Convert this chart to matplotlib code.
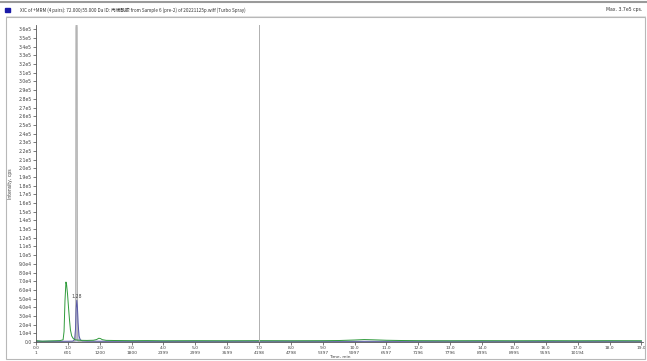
import matplotlib.pyplot as plt
from matplotlib.patches import Rectangle

plt.rcParams['font.family'] = ['DejaVu Sans', 'Noto Sans CJK SC']

# traces (time in min, intensity in cps)
green_t = [0.0, 0.2, 0.4, 0.6, 0.75, 0.85, 0.88, 0.91, 0.94, 0.96, 0.99, 1.02, 1.05,
           1.08, 1.12, 1.17, 1.22, 1.3, 1.45, 1.6, 1.8, 1.9, 1.97, 2.02, 2.08, 2.2,
           2.5, 3.0, 3.5, 4.0, 5.0, 6.0, 7.0, 8.0, 9.0, 9.5, 10.0, 10.3, 10.6, 11.0,
           11.5, 12.0, 13.0, 14.0, 15.0, 16.0, 17.0, 18.0, 19.0]
green_y = [1500, 900, 1200, 1400, 1600, 2500, 12000, 48000, 69000, 66000, 55000,
           40000, 26000, 14000, 7000, 4000, 2600, 2200, 1900, 1800, 2000, 2800, 4300,
           4000, 2700, 1900, 1700, 1500, 1600, 1400, 1500, 1400, 1500, 1400, 1500,
           1700, 2300, 2800, 2500, 2000, 1700, 1500, 1400, 1500, 1400, 1500, 1400,
           1500, 1400]

blue_t = [0.0, 0.5, 1.0, 1.15, 1.21, 1.24, 1.26, 1.28, 1.30, 1.32, 1.35, 1.39, 1.45,
          1.6, 2.0, 4.0, 7.0, 10.0, 13.0, 16.0, 19.0]
blue_y = [900, 800, 900, 1000, 2500, 15000, 38000, 48000, 40000, 22000, 7000, 2500,
          1300, 1000, 900, 800, 900, 800, 900, 800, 900]

grey_t = [0.0, 1.0, 1.2, 1.245, 1.255, 1.275, 1.29, 1.30, 1.34, 1.5, 19.0]
grey_y = [300, 300, 400, 2000, 362000, 370000, 362000, 2000, 400, 300, 300]

peak_rt = 1.28
cursor_t = 7.0

x_ticks = [float(i) for i in range(20)]
scan_labels = ['1', '601', '1200', '1800', '2399', '2999', '3599', '4198', '4798',
               '5397', '5997', '6597', '7196', '7796', '8395', '8995', '9595',
               '10194', '', '']
y_ticks = [i * 1e4 for i in range(37)]

title = ('XIC of +MRM (4 pairs): 72.000/55.000 Da ID: 丙烯酰胺 from Sample 6 (pre-2) '
         'of 20221125p.wiff (Turbo Spray)')


def ylab(v):
    if v == 0:
        return '0.0'
    if v >= 1e5:
        return '%.1fe5' % (v / 1e5)
    return '%.1fe4' % (v / 1e4)


W, H = 647, 361
fig = plt.figure(figsize=(W / 100, H / 100), dpi=100)
fig.patch.set_facecolor('white')

# window frame
fig.add_artist(Rectangle((6 / W, 2 / H), 639 / W, 342 / H, transform=fig.transFigure,
                         fill=False, ec='#b8b8b8', lw=0.8))
fig.add_artist(plt.Line2D([0, 1], [1 - 2 / H, 1 - 2 / H], transform=fig.transFigure,
                          color='#9a9a9a', lw=1.5))
fig.add_artist(plt.Line2D([6 / W, 645 / W], [1 - 16 / H, 1 - 16 / H],
                          transform=fig.transFigure, color='#dcdcdc', lw=0.6))
fig.add_artist(Rectangle((5 / W, 1 - 12 / H), 5 / W, 4 / H, transform=fig.transFigure,
                         color='#1a1aa8'))
fig.text(20 / W, 1 - 10 / H, title, fontsize=3.3, color='#333333', va='center',
         family=['Noto Sans CJK SC', 'DejaVu Sans'])
fig.text(642 / W, 1 - 10 / H, 'Max. 3.7e5 cps.', fontsize=3.3, color='#333333',
         va='center', ha='right')

ax = fig.add_axes([36 / W, 19 / H, (643 - 36) / W, (342 - 25) / H])
ax.plot(grey_t, grey_y, color='#b4b4b4', lw=0.9)
ax.fill_between(blue_t, blue_y, color='#b8b8e8', alpha=0.8, lw=0)
ax.plot(blue_t, blue_y, color='#5a5aa8', lw=0.7)
ax.plot(green_t, green_y, color='#2e9a3a', lw=0.7)
ax.axvline(cursor_t, color='#b0b0b0', lw=0.7)
ax.text(peak_rt, 49500, '%.2f' % peak_rt, fontsize=3.3, color='#444444',
        ha='center', va='bottom')

ax.set_xlim(0, 19.05)
ax.set_ylim(0, 3.65e5)
ax.set_xticks(x_ticks)
ax.set_xticklabels(['%.1f\n%s' % (t, s) for t, s in zip(x_ticks, scan_labels)],
                   fontsize=3.2, color='#444444', linespacing=1.15)
ax.set_yticks(y_ticks)
ax.set_yticklabels([ylab(v) for v in y_ticks], fontsize=3.3, color='#444444')
ax.tick_params(length=2, width=0.5, pad=1, colors='#444444')
for s in ['top', 'right']:
    ax.spines[s].set_visible(False)
for s in ['left', 'bottom']:
    ax.spines[s].set_color('#555555')
    ax.spines[s].set_linewidth(0.6)
ax.set_xlabel('Time, min', fontsize=3.2, color='#444444', labelpad=0.5)
ax.set_ylabel('Intensity, cps', fontsize=3.3, color='#444444', labelpad=4)

fig.savefig('out.png', dpi=100)
